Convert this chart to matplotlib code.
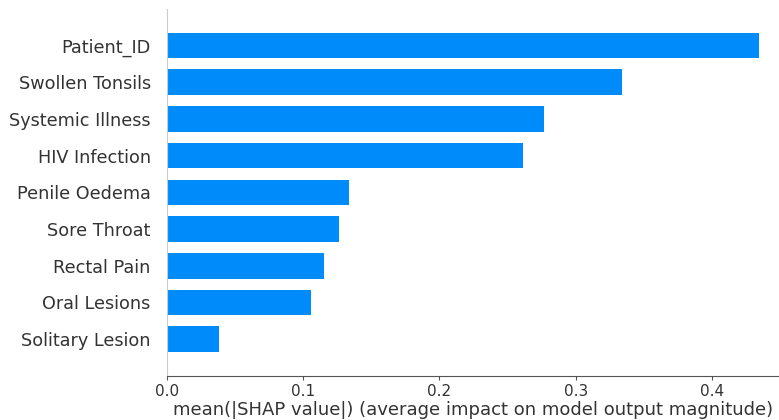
import matplotlib.pyplot as plt
import numpy as np

# mean |SHAP| per feature, top to bottom as shown
features = ["Patient_ID", "Swollen Tonsils", "Systemic Illness", "HIV Infection",
            "Penile Oedema", "Sore Throat", "Rectal Pain", "Oral Lesions",
            "Solitary Lesion"]
mean_shap = [0.434, 0.334, 0.2765, 0.261, 0.134, 0.126, 0.115, 0.106, 0.0386]
xticks = [0.0, 0.1, 0.2, 0.3, 0.4]

fig = plt.figure(figsize=(7.79, 4.2), dpi=100)
ax = fig.add_axes([0.214, 0.105, 0.786, 0.874])

y = np.arange(len(features))[::-1]
ax.barh(y, mean_shap, height=0.7, color="#008bfb", align="center")

ax.set_yticks(y)
ax.set_yticklabels(features, fontsize=12.7, color="#333333")
ax.set_xticks(xticks)
ax.set_xlim(0, 0.449)
ax.set_ylim(-1, 9)

ax.xaxis.set_ticks_position("bottom")
ax.yaxis.set_ticks_position("none")
ax.tick_params(axis="y", pad=8)
ax.tick_params(axis="x", labelsize=11, labelcolor="#333333", color="#555555",
               length=3, pad=3)
for s in ["right", "top"]:
    ax.spines[s].set_visible(False)
ax.spines["left"].set_color("#cccccc")
ax.spines["bottom"].set_color("#555555")

ax.set_xlabel("mean(|SHAP value|) (average impact on model output magnitude)",
              fontsize=13, color="#333333", labelpad=1)

fig.savefig("out.png", dpi=100)
